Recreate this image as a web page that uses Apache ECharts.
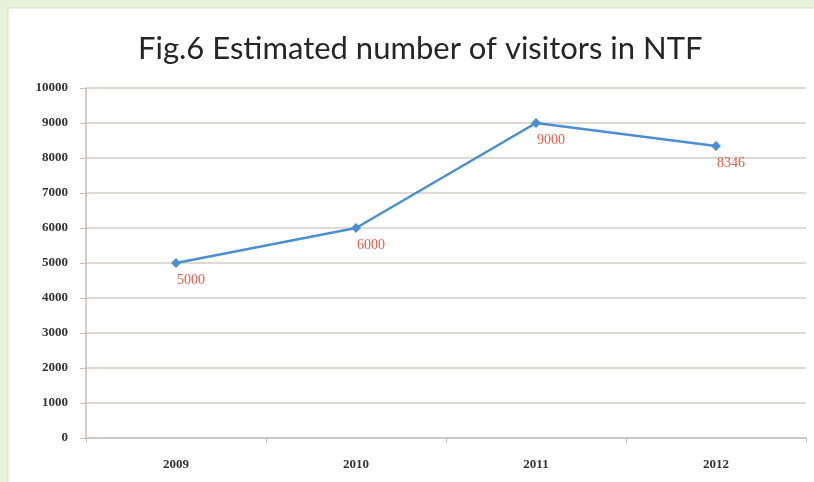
<!DOCTYPE html>
<html>
<head>
<meta charset="utf-8">
<script src="https://cdn.jsdelivr.net/npm/echarts@6/dist/echarts.min.js"></script>
<style>
    html, body { margin: 0; padding: 0; background: #e7f1d8; }
    #chart { width: 814px; height: 482px; }
</style>
</head>
<body>
<div id="chart"></div>
<script>
// data
const years = ['2009', '2010', '2011', '2012'];
const visitors = [5000, 6000, 9000, 8346];
const titleText = 'Fig.6 Estimated number of visitors in NTF';

const chart = echarts.init(document.getElementById('chart'));

const option = {
    backgroundColor: '#e7f1d8',
    animation: false,
    graphic: [{
        type: 'rect',
        z: -10,
        shape: { x: 8, y: 8, width: 814, height: 482 },
        style: { fill: '#ffffff', stroke: '#d8ddd0', lineWidth: 1 }
    }],
    title: {
        text: titleText,
        left: 133,
        top: 28,
        textStyle: { fontFamily: 'Lato', fontWeight: 'normal', fontSize: 31, color: '#262626' }
    },
    grid: { left: 86, right: 8, top: 88, bottom: 44 },
    xAxis: {
        type: 'category',
        data: years,
        boundaryGap: true,
        axisLine: { show: true, lineStyle: { color: '#c2c2c2', width: 1.5 } },
        axisTick: { show: true, length: 5, lineStyle: { color: '#c9bcb4' } },
        axisLabel: {
            margin: 20,
            fontFamily: 'Liberation Serif', fontWeight: 'bold', fontSize: 13, color: '#333333'
        }
    },
    yAxis: {
        type: 'value',
        min: 0, max: 10000, interval: 1000,
        axisLine: { show: true, lineStyle: { color: '#c9bcb4', width: 1.5 } },
        axisTick: { show: true, length: 6, lineStyle: { color: '#c9bcb4' } },
        splitLine: { show: true, lineStyle: { color: '#d6cec8', width: 1.5 } },
        axisLabel: {
            margin: 18,
            formatter: v => String(v),
            fontFamily: 'Liberation Serif', fontWeight: 'bold', fontSize: 13, color: '#333333'
        }
    },
    series: [{
        type: 'line',
        data: visitors,
        symbol: 'diamond',
        symbolSize: 10,
        itemStyle: { color: '#4a8fd2' },
        lineStyle: { color: '#4a8fd2', width: 2.5 },
        label: {
            show: true,
            position: 'bottom',
            distance: 5,
            offset: [15, 0],
            fontFamily: 'Liberation Serif', fontSize: 14, color: '#e0604e'
        }
    }]
};

chart.setOption(option);
</script>
</body>
</html>
